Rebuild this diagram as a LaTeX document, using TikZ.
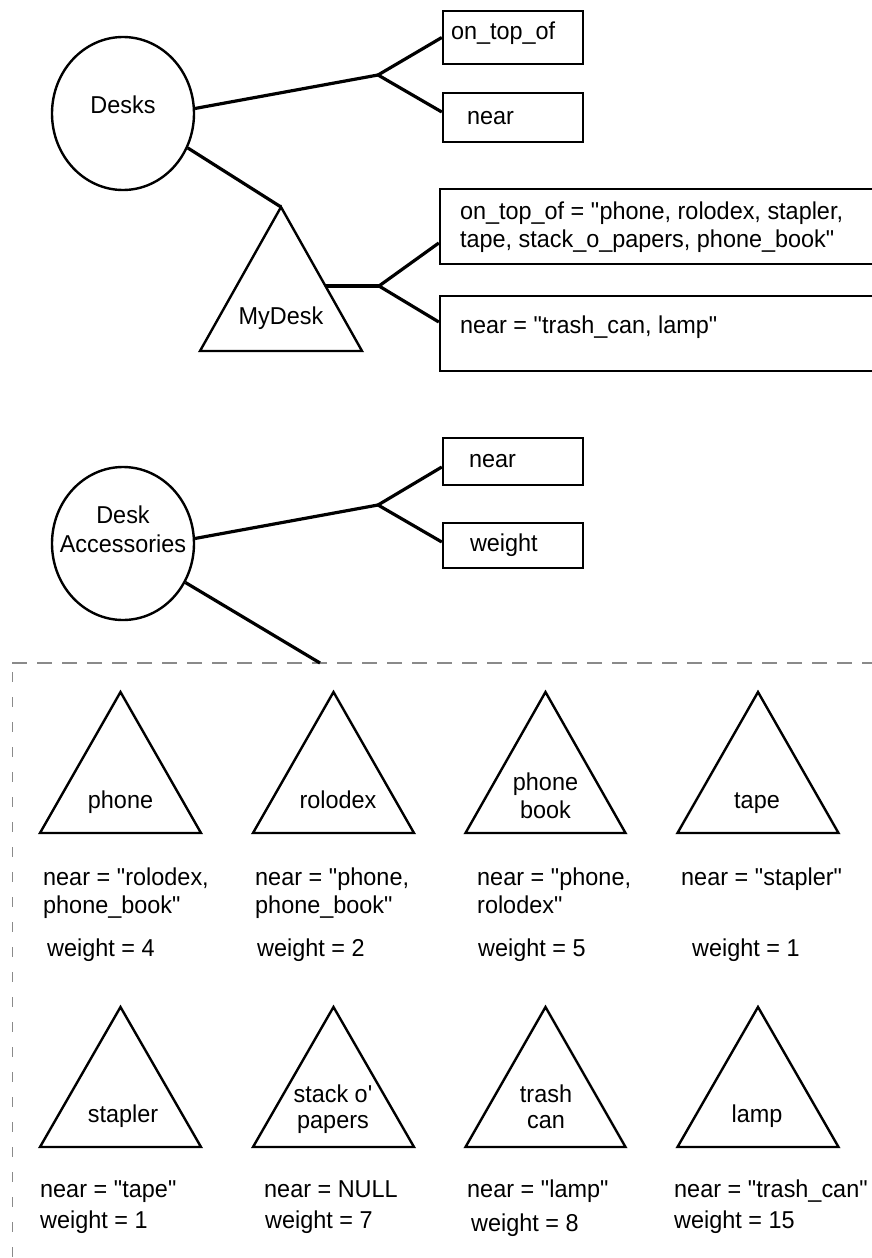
\documentclass[tikz,border=0pt]{standalone}
\usepackage{fontspec}
\setmainfont{Liberation Sans}[FakeStretch=0.96]
\usetikzlibrary{shapes.geometric,calc}
\definecolor{dashgray}{RGB}{138,138,138}
\newcommand\qq{\textquotedbl}
\newcommand\mltl[1]{\begin{tabular}[t]{@{}l@{}}#1\end{tabular}}
\newcommand\mltc[1]{\begin{tabular}[t]{@{}c@{}}#1\end{tabular}}
\newcommand\mytri[5]{%
  \coordinate (#1) at (#2,#3);
  \draw[shp] (#1) -- ({#2-#5},#4) -- ({#2+#5},#4) -- cycle;}
\begin{document}
\begin{tikzpicture}[x=1pt,y=-1pt,
  every node/.style={font=\fontsize{24.4pt}{28pt}\selectfont, inner sep=0pt},
  shp/.style={draw=black, line width=2.4pt},
  conn/.style={draw=black, line width=3.2pt},
  ell/.style={shp, ellipse, minimum width=142pt, minimum height=153pt},
  box/.style={shp, rectangle},
  frameh/.style={draw=dashgray, line width=2.5pt, dash pattern=on 15pt off 10pt},
  framev/.style={draw=dashgray, line width=1.6pt, dash pattern=on 10pt off 15pt}
]
\useasboundingbox (0,0) rectangle (872,1258);

% ---------- Desks ----------
\node[ell, text height=29.5pt, text depth=30.5pt] (desks) at (123,113.5) {\makebox[0pt]{Desks}};
\node[box, minimum width=140pt, minimum height=53pt, text height=12pt, text depth=8pt, inner xsep=8pt] (dot) at (513,37.5) {\makebox[124pt][l]{on\_top\_of}};
\node[box, minimum width=140pt, minimum height=49pt, text height=16.5pt, text depth=3.5pt, inner xsep=24pt] (dnear) at (513,117.5) {\makebox[92pt][l]{near}};
\coordinate (j1) at (378,75);
\draw[conn] (desks.4) -- (j1);
\draw[conn] (dot.west) -- (j1) -- ([yshift=5.5pt]dnear.west);

% ---------- MyDesk ----------
\mytri{mydesk}{281}{207}{351}{81}
\node[anchor=base] (mydesklbl) at (281,324) {MyDesk};
\draw[conn] (desks.-28) -- (mydesk);
\coordinate (mdside) at (325,286);
\coordinate (j2) at (379,286);
\node[box, minimum width=434pt, minimum height=75pt, text height=2.5pt, text depth=17.5pt, inner xsep=20pt] (mdot) at (657,226.5) {\makebox[394pt][l]{\mltl{on\_top\_of = \qq phone, rolodex, stapler,\\tape, stack\_o\_papers, phone\_book\qq}}};
\node[box, minimum width=434pt, minimum height=75pt, text height=9.5pt, text depth=10.5pt, inner xsep=20pt] (mdnear) at (657,333.5) {\makebox[394pt][l]{near = \qq trash\_can, lamp\qq}};
\draw[conn] (mdside) -- (j2);
\draw[conn] ([yshift=-16.5pt]mdot.west) -- (j2) -- ([yshift=11.5pt]mdnear.west);

% ---------- Desk Accessories ----------
\node[ell, text height=9.5pt, text depth=50.5pt, font=\fontsize{24.4pt}{29.5pt}\selectfont] (acc) at (123,543.5) {\makebox[0pt]{\mltc{Desk\\Accessories}}};
\node[box, minimum width=140pt, minimum height=47pt, text height=15.5pt, text depth=4.5pt, inner xsep=26pt] (anear) at (513,461.5) {\makebox[88pt][l]{near}};
\node[box, minimum width=140pt, minimum height=45pt, text height=16pt, text depth=4pt, inner xsep=27pt] (aweight) at (513,545.5) {\makebox[86pt][l]{weight}};
\coordinate (j3) at (378,505);
\draw[conn] (acc.4) -- (j3);
\draw[conn] ([yshift=-5.5pt]anear.west) -- (j3) -- ([yshift=3.5pt]aweight.west);

% ---------- dashed frame ----------
\draw[frameh] (12,663) -- (872,663);
\draw[framev] (12.5,672) -- (12.5,1258);
\coordinate (ftop) at (320,663);
\draw[conn] (acc.-32) -- (ftop);

% ---------- row 1 ----------
\mytri{phone}{120.5}{692}{833}{80.5}
\node[anchor=base] (phonelbl) at (120.5,808) {phone};
\mytri{rolodex}{333.5}{692}{833}{80.5}
\node[anchor=base] (rolodexlbl) at (338,808) {rolodex};
\mytri{phonebook}{545.5}{692}{833}{80}
\node[anchor=base] (phonebooklbl) at (545.5,790) {\mltc{phone\\book}};
\mytri{tape}{758}{692}{833}{80.5}
\node[anchor=base] (tapelbl) at (757,808) {tape};

\node[anchor=base west] (phonenear) at (43,885) {\mltl{near = \qq rolodex,\\phone\_book\qq}};
\node[anchor=base west] (phoneweight) at (47,956) {weight = 4};
\node[anchor=base west] (rolodexnear) at (255,885) {\mltl{near = \qq phone,\\phone\_book\qq}};
\node[anchor=base west] (rolodexweight) at (257,956) {weight = 2};
\node[anchor=base west] (phonebooknear) at (477,885) {\mltl{near = \qq phone,\\rolodex\qq}};
\node[anchor=base west] (phonebookweight) at (478,956) {weight = 5};
\node[anchor=base west] (tapenear) at (681,885) {near = \qq stapler\qq};
\node[anchor=base west] (tapeweight) at (692,956) {weight = 1};

% ---------- row 2 ----------
\mytri{stapler}{120.5}{1007}{1147}{80.5}
\node[anchor=base] (staplerlbl) at (123,1122) {stapler};
\mytri{stack}{333.5}{1007}{1147}{80.5}
\node[anchor=base, font=\fontsize{24.4pt}{26pt}\selectfont] (stacklbl) at (333,1102) {\mltc{stack o\textquotesingle\\papers}};
\mytri{trash}{545.5}{1007}{1147}{80}
\node[anchor=base, font=\fontsize{24.4pt}{26pt}\selectfont] (trashlbl) at (546,1102) {\mltc{trash\\can}};
\mytri{lamp}{758}{1007}{1147}{80.5}
\node[anchor=base] (lamplbl) at (757,1122) {lamp};

\node[anchor=base west] (staplernear) at (40,1197) {near = \qq tape\qq};
\node[anchor=base west] (staplerweight) at (40,1228) {weight = 1};
\node[anchor=base west] (stacknear) at (264,1197) {near = NULL};
\node[anchor=base west] (stackweight) at (265,1228) {weight = 7};
\node[anchor=base west] (trashnear) at (467,1197) {near = \qq lamp\qq};
\node[anchor=base west] (trashweight) at (471,1231) {weight = 8};
\node[anchor=base west] (lampnear) at (674,1197) {near = \qq trash\_can\qq};
\node[anchor=base west] (lampweight) at (674,1228) {weight = 15};
\end{tikzpicture}
\end{document}
